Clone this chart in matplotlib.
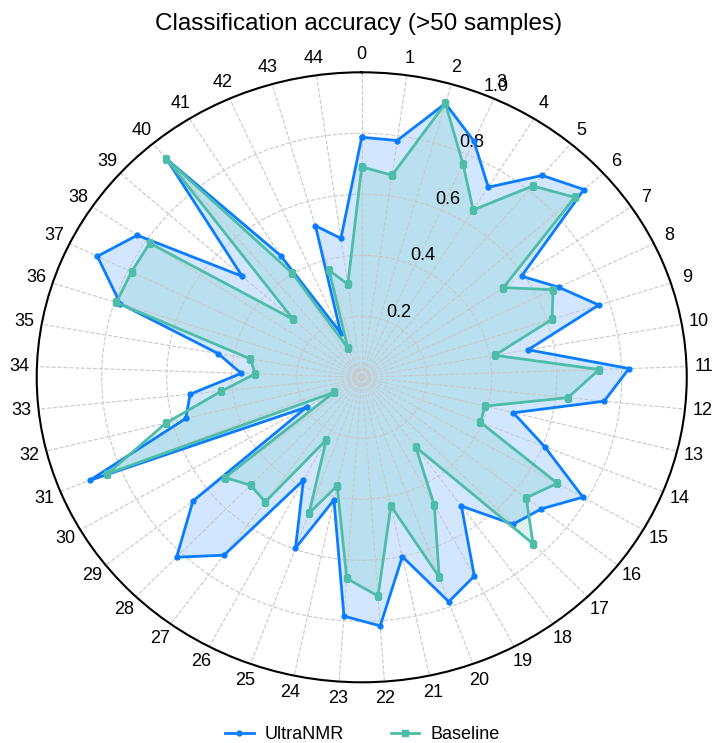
import matplotlib.pyplot as plt
import numpy as np

plt.rcParams['font.family'] = ['Liberation Sans', 'DejaVu Sans']

# accuracy per class (classes with >50 samples)
categories = [str(i) for i in range(45)]
ultranmr = [0.787, 0.784, 0.934, 0.848, 0.735, 0.864, 0.920, 0.593, 0.674, 0.767,
            0.520, 0.823, 0.750, 0.481, 0.607, 0.786, 0.701, 0.670, 0.522, 0.738,
            0.783, 0.601, 0.817, 0.785, 0.411, 0.596, 0.382, 0.721, 0.820, 0.659,
            0.196, 0.903, 0.558, 0.531, 0.371, 0.449, 0.781, 0.905, 0.833, 0.495,
            0.935, 0.470, 0.159, 0.517, 0.460]
baseline = [0.690, 0.669, 0.934, 0.766, 0.647, 0.819, 0.882, 0.526, 0.655, 0.616,
            0.416, 0.731, 0.638, 0.391, 0.394, 0.695, 0.642, 0.759, 0.283, 0.476,
            0.697, 0.431, 0.719, 0.661, 0.364, 0.474, 0.232, 0.505, 0.492, 0.534,
            0.098, 0.844, 0.621, 0.434, 0.328, 0.348, 0.794, 0.788, 0.787, 0.284,
            0.935, 0.402, 0.105, 0.365, 0.308]
r_ticks = [0.2, 0.4, 0.6, 0.8, 1.0]

blue = '#0A7CFF'
teal = '#4DBDA9'

angles = np.linspace(0, 2 * np.pi, len(categories), endpoint=False)
ang_c = np.append(angles, angles[0])

fig = plt.figure(figsize=(7.17, 7.43), dpi=100)
ax = fig.add_axes([0.0512, 0.0817, 0.9066, 0.821], projection='polar')
ax.set_aspect('auto')
ax.set_theta_zero_location('N')
ax.set_theta_direction(-1)

series = [('UltraNMR', ultranmr, blue, 'o', 3.5), ('Baseline', baseline, teal, 's', 4)]
for name, vals, col, mk, ms in series:
    v = np.append(vals, vals[0])
    ax.plot(ang_c, v, color=col, linewidth=2, marker=mk, markersize=ms, label=name)
    ax.fill(ang_c, v, color=col, alpha=0.18)

ax.set_ylim(0, 1.0)
ax.set_yticks(r_ticks)
ax.set_yticklabels(['%.1f' % t for t in r_ticks], fontsize=13)
ax.set_rlabel_position(22)
ax.set_xticks(angles)
ax.set_xticklabels(categories, fontsize=13)
ax.tick_params(axis='x', pad=2)
ax.grid(True, linestyle='--', color='#c8c8c8', linewidth=0.8)
ax.spines['polar'].set_linewidth(1.5)
ax.spines['polar'].set_color('black')

fig.suptitle('Classification accuracy (>50 samples)', fontsize=17.5, y=0.983)
fig.legend(loc='lower center', bbox_to_anchor=(0.505, -0.022), ncol=2, frameon=False,
           fontsize=13, handlelength=1.6, handletextpad=0.6, columnspacing=2.6)

plt.savefig('out.png', dpi=100)
